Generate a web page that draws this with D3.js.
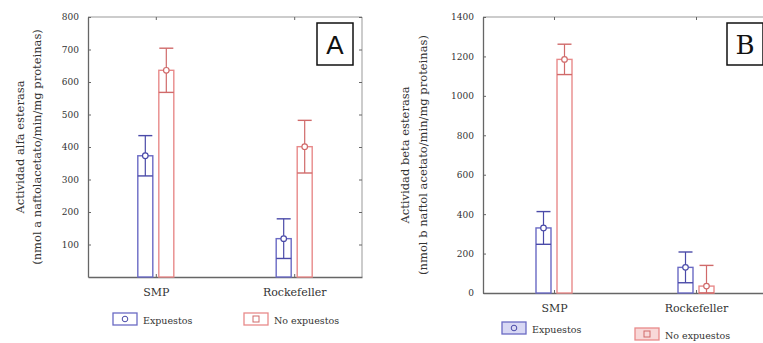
<!DOCTYPE html>
<html>
<head>
<meta charset="utf-8">
<script src="https://cdn.jsdelivr.net/npm/d3@7"></script>
<style>
  body { margin: 0; background: #fff; }
  .axis path { stroke: #666; }
  .axis line { stroke: #666; }
</style>
</head>
<body>
<div id="chart"></div>
<script>
// Categories and groups
const categories = ["SMP", "Rockefeller"];
const groups = ["Expuestos", "No expuestos"];

// Panel A: alfa esterasa (mean and standard error, per category)
const alfaExpuestos = [373, 118];
const alfaExpuestosSE = [62, 61];
const alfaNoExpuestos = [636, 401];
const alfaNoExpuestosSE = [68, 81];
const alfaTicks = [100, 200, 300, 400, 500, 600, 700, 800];

// Panel B: beta esterasa
const betaExpuestos = [330, 130];
const betaExpuestosSE = [83, 78];
const betaNoExpuestos = [1185, 35];
const betaNoExpuestosSE = [77, 105];
const betaTicks = [0, 200, 400, 600, 800, 1000, 1200, 1400];

const SERIF = "DejaVu Serif";

const colors = {
  "Expuestos": { bar: "#6a6ac4", err: "#4a4aa8", fill: "#fff" },
  "No expuestos": { bar: "#e88a8a", err: "#d06a6a", fill: "#fff" }
};

const svg = d3.select("#chart").append("svg")
  .attr("width", 763)
  .attr("height", 343)
  .style("font-family", SERIF);

function drawPanel(p) {
  let g = svg.append("g");

  let y = d3.scaleLinear().domain(p.domain).range([p.bottom, p.top]);
  let x = d3.scalePoint().domain(categories).range([p.left, p.right]).padding(p.pad);
  let x1 = d3.scaleBand().domain(groups).range([-18, 18]).paddingInner(0.286);

  // frame: top and right lighter
  g.append("line").attr("x1", p.left).attr("x2", p.right).attr("y1", p.top).attr("y2", p.top)
    .attr("stroke", "#999");
  g.append("line").attr("x1", p.right).attr("x2", p.right).attr("y1", p.top).attr("y2", p.bottom)
    .attr("stroke", "#999");

  // right axis ticks (inward)
  g.append("g").attr("class", "axis")
    .attr("transform", "translate(" + p.right + ",0)")
    .call(d3.axisRight(y).tickValues(p.ticks).tickSize(-3).tickFormat(""))
    .call(a => a.select(".domain").remove());

  // top ticks at category positions
  g.append("g").attr("class", "axis")
    .attr("transform", "translate(0," + p.top + ")")
    .call(d3.axisTop(x).tickSize(-3).tickFormat(""))
    .call(a => a.select(".domain").remove());

  // left axis
  g.append("g").attr("class", "axis")
    .attr("transform", "translate(" + p.left + ",0)")
    .call(d3.axisLeft(y).tickValues(p.ticks).tickFormat(d3.format("d"))
      .tickSizeInner(-3).tickSizeOuter(0).tickPadding(9))
    .call(a => a.select(".domain").attr("stroke", "#555").attr("stroke-width", 1.3))
    .call(a => a.selectAll("text").style("font-family", SERIF).style("font-size", "9px").attr("fill", "#333"));

  // bottom axis
  g.append("g").attr("class", "axis")
    .attr("transform", "translate(0," + p.bottom + ")")
    .call(d3.axisBottom(x).tickSizeInner(-3).tickSizeOuter(0).tickPadding(11))
    .call(a => a.select(".domain").attr("stroke", "#555").attr("stroke-width", 1.3))
    .call(a => a.selectAll("text").style("font-family", SERIF).style("font-size", "11px").attr("fill", "#333"));

  // bars with error bars
  groups.forEach(function (grp, gi) {
    let means = p.series[gi];
    let ses = p.errors[gi];
    let c = colors[grp];
    categories.forEach(function (cat, ci) {
      let x0 = x(cat) + x1(grp);
      let w = x1.bandwidth();
      let m = means[ci];
      let hi = m + ses[ci];
      let lo = Math.max(p.domain[0], m - ses[ci]);
      let cx = x0 + w / 2;

      g.append("rect")
        .attr("x", x0).attr("y", y(m))
        .attr("width", w).attr("height", y(p.domain[0]) - y(m))
        .attr("fill", c.fill).attr("stroke", c.bar).attr("stroke-width", 1.4);

      g.append("line").attr("x1", cx).attr("x2", cx).attr("y1", y(hi)).attr("y2", y(lo))
        .attr("stroke", c.err).attr("stroke-width", 1.2);
      g.append("line").attr("x1", cx - 7).attr("x2", cx + 7).attr("y1", y(hi)).attr("y2", y(hi))
        .attr("stroke", c.err).attr("stroke-width", 1.4);
      g.append("line").attr("x1", x0).attr("x2", x0 + w).attr("y1", y(lo)).attr("y2", y(lo))
        .attr("stroke", c.err).attr("stroke-width", 1.4);
      g.append("circle").attr("cx", cx).attr("cy", y(m)).attr("r", 2.8)
        .attr("fill", "#fff").attr("stroke", c.err).attr("stroke-width", 1.2);
    });
  });

  // y axis title
  let midY = (p.top + p.bottom) / 2;
  p.title.forEach(function (t, i) {
    g.append("text")
      .attr("transform", "translate(" + p.titleX[i] + "," + midY + ") rotate(-90)")
      .attr("text-anchor", "middle")
      .attr("dominant-baseline", "central")
      .style("font-family", SERIF)
      .style("font-size", "11.5px")
      .attr("fill", "#333")
      .text(t);
  });

  // letter box
  g.append("rect")
    .attr("x", p.letterX).attr("y", 23)
    .attr("width", 36).attr("height", 42)
    .attr("fill", "#fff").attr("stroke", "#111").attr("stroke-width", 1.5);
  g.append("text")
    .attr("x", p.letterX + 18).attr("y", 54)
    .attr("text-anchor", "middle")
    .style("font-size", "26px")
    .style("font-family", p.letterFont)
    .attr("fill", "#111")
    .text(p.letter);

  // legend
  groups.forEach(function (grp, gi) {
    let lx = p.legendX[gi], ly = p.legendY[gi];
    let c = colors[grp];
    g.append("rect").attr("x", lx).attr("y", ly - 11).attr("width", 24).attr("height", 12)
      .attr("fill", p.legendFill[gi]).attr("stroke", c.bar).attr("stroke-width", 1.3);
    if (gi === 0) {
      g.append("circle").attr("cx", lx + 12).attr("cy", ly - 5).attr("r", 2.8)
        .attr("fill", "none").attr("stroke", c.err);
    } else {
      g.append("rect").attr("x", lx + 9).attr("y", ly - 8).attr("width", 6).attr("height", 6)
        .attr("fill", "none").attr("stroke", c.err);
    }
    g.append("text").attr("x", lx + 30).attr("y", ly)
      .style("font-family", SERIF)
      .style("font-size", "9.5px").attr("fill", "#333")
      .text(grp);
  });
}

drawPanel({
  domain: [0, 800], ticks: alfaTicks,
  left: 88, right: 362, top: 17, bottom: 277, pad: 0.49,
  series: [alfaExpuestos, alfaNoExpuestos],
  errors: [alfaExpuestosSE, alfaNoExpuestosSE],
  title: ["Actividad alfa esterasa", "(nmol a naftolacetato/min/mg proteinas)"],
  titleX: [20, 37],
  letter: "A", letterX: 317, letterFont: "Liberation Sans",
  legendX: [113, 244], legendY: [324, 324],
  legendFill: ["#fff", "#fff"]
});

drawPanel({
  domain: [0, 1400], ticks: betaTicks,
  left: 483, right: 767, top: 17, bottom: 293, pad: 0.5,
  series: [betaExpuestos, betaNoExpuestos],
  errors: [betaExpuestosSE, betaNoExpuestosSE],
  title: ["Actividad beta esterasa", "(nmol b naftol acetato/min/mg proteinas)"],
  titleX: [405, 423],
  letter: "B", letterX: 727, letterFont: SERIF,
  legendX: [502, 635], legendY: [333, 339],
  legendFill: ["#d8d8f4", "#f8d8d8"]
});
</script>
</body>
</html>
